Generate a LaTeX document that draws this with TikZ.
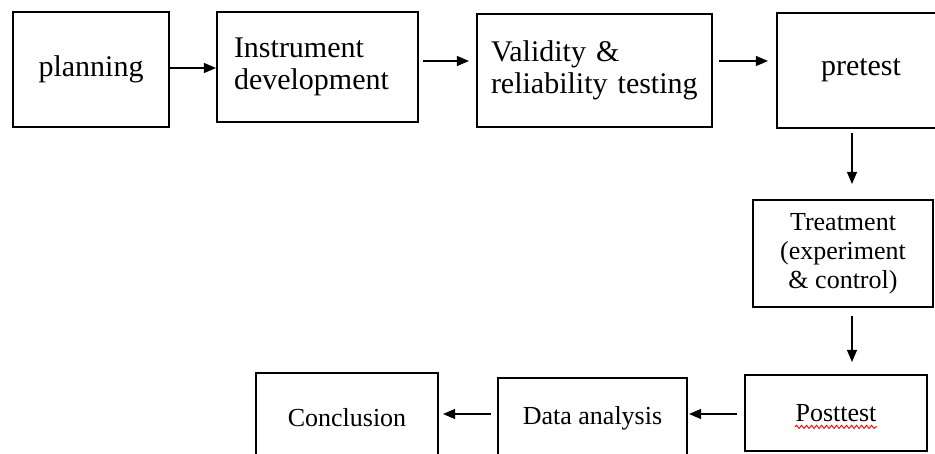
\documentclass[tikz,border=0pt]{standalone}
\usepackage{fontspec}
\setmainfont{Liberation Serif}
\usetikzlibrary{arrows.meta,decorations.pathmorphing}
\tikzset{
  box/.style={draw=black, line width=2.1pt, rectangle, inner sep=0pt},
  topfont/.style={font=\fontsize{30}{32}\selectfont},
  lowfont/.style={font=\fontsize{26}{29}\selectfont},
  arr/.style={draw=black, line width=1.2pt, -{Triangle[length=12pt,width=10pt]}},
}
\begin{document}
\begin{tikzpicture}[x=1pt,y=-1pt]
\useasboundingbox (0,0) rectangle (935,454);
\clip (0,0) rectangle (935,454);
\fill[white] (0,0) rectangle (935,454);
% top row
\node[box,topfont,minimum width=156pt,minimum height=115pt] (plan) at (91,69.5) {planning};
\node[box,topfont,minimum width=201pt,minimum height=110pt,inner xsep=17pt,text width=167pt,align=left] (inst) at (317.5,67) {Instrument\\development};
\node[box,topfont,minimum width=235pt,minimum height=113pt,inner xsep=14pt,text width=207pt,align=left] (valid) at (594.5,70.5) {Validity \&\\\mbox{reliability testing}};
\node[box,topfont,minimum width=168pt,minimum height=115pt] (pre) at (861,70.5) {pretest};
% right column
\node[box,lowfont,minimum width=180pt,minimum height=107pt,align=center] (treat) at (843,253.5) {Treatment\\(experiment\\\&\ control)};
\node[box,lowfont,minimum width=182pt,minimum height=76pt] (post) at (836,413) {Posttest};
% bottom row
\node[box,lowfont,minimum width=182pt,minimum height=90pt] (concl) at (347,418) {Conclusion};
\node[box,lowfont,minimum width=189pt,minimum height=80pt] (data) at (592.5,418) {Data analysis};
% spell-check underline
\draw[red, line width=0.9pt, decorate, decoration={snake, amplitude=1.6pt, segment length=5pt}]
  ([xshift=-41pt,yshift=-5.5pt]post.base) -- ([xshift=41pt,yshift=-5.5pt]post.base);
% arrows
\draw[arr] ([yshift=1.5pt]plan.east) -- ([yshift=1.5pt]plan.east -| inst.west);
\draw[arr] ([xshift=4pt,yshift=6pt]inst.east) -- ([xshift=-7pt,yshift=6pt]inst.east -| valid.west);
\draw[arr] ([xshift=6pt,yshift=9.5pt]valid.east) -- ([xshift=-8pt,yshift=9.5pt]valid.east -| pre.west);
\draw[arr] ([xshift=-9pt,yshift=-4pt]pre.south) -- ([xshift=-9pt,yshift=15pt]pre.south |- treat.north);
\draw[arr] ([xshift=9pt,yshift=-8pt]treat.south) -- ([xshift=9pt,yshift=12pt]treat.south |- post.north);
\draw[arr] ([xshift=-7pt,yshift=-1pt]post.west) -- ([xshift=1pt,yshift=-1pt]post.west -| data.east);
\draw[arr] ([xshift=-6pt,yshift=4pt]data.west) -- ([xshift=4pt,yshift=4pt]data.west -| concl.east);
\end{tikzpicture}
\end{document}
